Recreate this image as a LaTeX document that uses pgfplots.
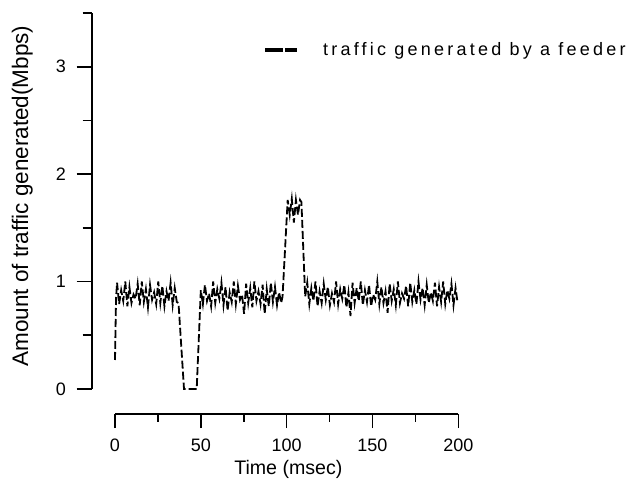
\documentclass[border=0pt]{standalone}
\usepackage{pgfplots}
\pgfplotsset{compat=1.18}
\usepackage{pgfplotstable}
\usepackage{fontspec}
\setmainfont{Liberation Sans}
\newfontfamily\spacedfont[LetterSpace=18]{Liberation Sans}

\pgfplotstableread{
t v
0 0.27
0.6 0.84
1.2 0.99
2.4 0.79
3.6 0.92
4.8 0.82
6.0 1.00
7.2 0.77
8.4 0.95
9.6 0.80
10.8 0.88
12.0 0.84
13.2 0.98
14.4 0.78
15.6 1.00
16.8 0.81
18.0 0.93
19.2 0.76
20.4 0.97
21.6 0.83
22.8 0.90
24.0 0.79
25.2 1.00
26.4 0.80
27.6 0.96
28.8 0.77
30.0 0.91
31.2 0.82
32.4 0.99
33.6 0.78
34.8 0.94
36.0 0.81
37.0 0.80
40.2 0.00
47.6 0.00
50.0 0.92
51.2 0.79
52.4 0.97
53.6 0.82
54.8 0.89
56.0 0.77
57.2 1.00
58.4 0.80
59.6 0.93
60.8 0.84
62.0 0.99
63.2 0.78
64.4 0.95
65.6 0.73
66.8 0.90
68.0 0.81
69.2 1.00
70.4 0.79
71.6 0.96
72.8 0.83
74.0 0.88
75.2 0.70
76.4 0.98
77.6 0.80
78.8 0.94
80.0 0.76
81.2 1.00
82.4 0.82
83.6 0.91
84.8 0.79
86.0 0.97
87.2 0.70
88.4 0.93
89.6 0.77
90.8 0.99
92.0 0.81
93.2 0.95
94.4 0.78
95.6 0.90
96.8 0.80
97.6 0.86
100.6 1.76
101.8 1.62
103.0 1.77
104.2 1.55
105.4 1.76
106.6 1.62
107.8 1.76
108.6 1.74
110.8 0.86
112.0 0.99
113.2 0.79
114.4 0.94
115.6 0.82
116.8 1.00
118.0 0.77
119.2 0.91
120.4 0.80
121.6 0.98
122.8 0.83
124.0 0.95
125.2 0.78
126.4 0.89
127.6 0.81
128.8 1.00
130.0 0.79
131.2 0.93
132.4 0.84
133.6 0.97
134.8 0.76
136.0 0.90
137.2 0.68
138.4 0.99
139.6 0.80
140.8 0.94
142.0 0.82
143.2 1.00
144.4 0.78
145.6 0.92
146.8 0.81
148.0 0.97
149.2 0.77
150.4 0.88
151.6 0.83
152.8 1.00
154.0 0.79
155.2 0.95
156.4 0.80
157.6 0.91
158.8 0.71
160.0 0.98
161.2 0.82
162.4 0.93
163.6 0.78
164.8 1.00
166.0 0.80
167.2 0.89
168.4 0.84
169.6 0.96
170.8 0.77
172.0 0.99
173.2 0.81
174.4 0.92
175.6 0.79
176.8 1.00
178.0 0.83
179.2 0.94
180.4 0.78
181.6 0.97
182.8 0.80
184.0 0.90
185.2 0.82
186.4 0.99
187.6 0.77
188.8 0.95
190.0 0.81
191.2 1.00
192.4 0.79
193.6 0.92
194.8 0.84
196.0 0.98
197.2 0.78
198.4 0.94
199.6 0.80
}\traffic

\begin{document}
\begin{tikzpicture}
% data
\begin{axis}[
  at={(115bp,93bp)}, anchor=south west,
  scale only axis, width=343.3bp, height=376bp,
  xmin=0, xmax=200, ymin=0, ymax=3.5,
  hide axis, clip=false,
  legend style={draw=none, fill=none, inner sep=0pt, outer sep=0pt,
    at={(axis cs:86.2,3.156)}, anchor=west,
    nodes={inner sep=0pt}},
  legend image code/.code={%
    \draw[line width=4.5bp, solid] (0bp,0bp)--(18bp,0bp);
    \draw[line width=4.5bp, solid] (20bp,0bp)--(32bp,0bp);
    \path (57bp,0bp);},
]
\addplot[black, line width=1.8bp, dash pattern=on 8bp off 3bp] table[x=t,y=v]{\traffic};
\addlegendentry{\spacedfont\fontsize{18bp}{21bp}\selectfont traffic generated by a feeder}
\end{axis}
% x axis
\begin{axis}[
  at={(115bp,68bp)}, anchor=south west,
  scale only axis, width=343.3bp, height=10bp,
  xmin=0, xmax=200, ymin=0, ymax=1,
  axis x line*=bottom, hide y axis,
  x axis line style={-, line width=1.6bp},
  xtick={0,50,...,200}, minor xtick={25,75,125,175},
  xtick align=outside, major tick length=14bp, minor tick length=7.7bp,
  tick style={black, line width=1.6bp},
  /pgf/number format/assume math mode=true,
  xlabel={Time (msec)},
  xlabel style={at={(axis description cs:0.505,-6.1)}, anchor=base, font=\fontsize{19.6bp}{23bp}\selectfont},
  every x tick label/.append style={font=\fontsize{18bp}{21bp}\selectfont, inner sep=0pt, anchor=north, yshift=-11bp},
]
\end{axis}
% y axis
\begin{axis}[
  at={(91.7bp,93bp)}, anchor=south west,
  scale only axis, width=10bp, height=376bp,
  xmin=0, xmax=1, ymin=0, ymax=3.5,
  axis y line*=left, hide x axis,
  y axis line style={-, line width=1.6bp},
  ytick={0,1,2,3}, minor ytick={0.5,1.5,2.5,3.5},
  ytick align=outside, major tick length=15bp, minor tick length=9bp,
  tick style={black, line width=1.6bp},
  /pgf/number format/assume math mode=true,
  ylabel={Amount of traffic generated(Mbps)},
  ylabel style={at={(axis description cs:-6.37,0.513)}, anchor=base, font=\fontsize{22.5bp}{26bp}\selectfont},
  every y tick label/.append style={font=\fontsize{18bp}{21bp}\selectfont, inner sep=0pt, anchor=east, xshift=-10.5bp},
]
\end{axis}
\pgfresetboundingbox
\path (0,0) rectangle (641bp,482bp);
\end{tikzpicture}
\end{document}
